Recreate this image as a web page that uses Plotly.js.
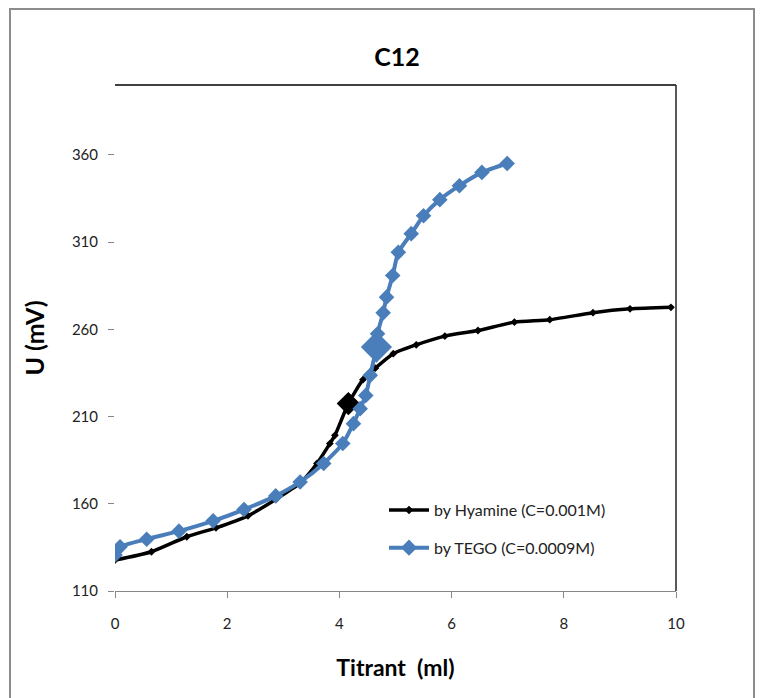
<!DOCTYPE html>
<html>
<head>
<meta charset="utf-8">
<script src="https://cdn.plot.ly/plotly-3.0.1.min.js"></script>
<style>html,body{margin:0;padding:0;background:#fff;}#chart{width:760px;height:698px;}</style>
</head>
<body>
<div id="chart"></div>
<script>
// Data
const hyamineX = [0, 0.65, 1.28, 1.8, 2.37, 2.87, 3.29, 3.6, 3.83, 3.92, 4.16, 4.42, 4.64, 4.96, 5.37, 5.88, 6.47, 7.12, 7.75, 8.52, 9.18, 9.91];
const hyamineY = [127.7, 132.5, 141.1, 146.2, 153.1, 162.6, 171.6, 183.1, 194.5, 199.2, 217.4, 231.1, 237.7, 246.0, 251.1, 256.1, 259.3, 264.1, 265.5, 269.5, 271.7, 272.6];
const tegoX = [0, 0.09, 0.565, 1.14, 1.75, 2.30, 2.865, 3.30, 3.72, 4.06, 4.25, 4.37, 4.47, 4.55, 4.66, 4.68, 4.78, 4.84, 4.95, 5.05, 5.28, 5.50, 5.79, 6.14, 6.54, 6.99];
const tegoY = [130.6, 135.3, 139.7, 144.3, 150.2, 156.7, 164.5, 172.5, 183.1, 194.5, 205.9, 214.5, 222.1, 233.6, 249.8, 257.4, 269.4, 278.4, 290.8, 304.1, 314.8, 325.1, 334.3, 342.3, 349.9, 355.0];
const hyamineEqIndex = 10;  // enlarged marker (equivalence point)
const tegoEqIndex = 14;
const seriesNames = ["by Hyamine (C=0.001M)", "by TEGO (C=0.0009M)"];
const chartTitle = "C12";
const xTitle = "Titrant  (ml)";
const yTitle = "U (mV)";

const FONT = "Lato, 'Open Sans', sans-serif";
const hSizes = hyamineX.map((_, i) => i === hyamineEqIndex ? 18 : 6);
const tSizes = tegoX.map((_, i) => i === tegoEqIndex ? 24 : 12);

const traces = [
  {
    x: hyamineX, y: hyamineY, name: seriesNames[0], type: 'scatter', mode: 'lines+markers',
    line: {color: '#000000', width: 3.5, shape: 'spline', smoothing: 0.6},
    marker: {symbol: 'diamond', color: '#000000', size: hSizes, opacity: 1, line: {width: 0}},
    legendgroup: 'a'
  },
  {
    x: tegoX, y: tegoY, name: seriesNames[1], type: 'scatter', mode: 'lines+markers',
    line: {color: '#4A7EBB', width: 4, shape: 'spline', smoothing: 0.6},
    marker: {symbol: 'diamond', color: '#4A7EBB', size: tSizes, opacity: 1, line: {width: 0}},
    legendgroup: 'b'
  }
];

const L = 115, R = 676, T = 85, B = 591;
const W = R - L, H = B - T;
const px = v => (v - L) / W;
const py = v => (B - v) / H;

const layout = {
  width: 760, height: 698,
  margin: {l: L, r: 760 - R, t: T, b: 698 - B, pad: 0},
  paper_bgcolor: '#ffffff', plot_bgcolor: '#ffffff',
  font: {family: FONT, color: '#333333', size: 14},
  title: {text: '<b>' + chartTitle + '</b>', font: {family: FONT, size: 25, color: '#000'}, x: px(397), xref: 'paper', xanchor: 'center', y: 1 - 57/698, yanchor: 'middle'},
  showlegend: true,
  legend: {x: px(384), y: py(493), xanchor: 'left', yanchor: 'top', bgcolor: 'rgba(0,0,0,0)', font: {family: FONT, size: 16, color: '#222'}, tracegroupgap: 14, itemsizing: 'trace', itemwidth: 40},
  xaxis: {
    range: [0, 10], dtick: 2, tick0: 0, showgrid: false, zeroline: false,
    showline: true, linecolor: '#868686', linewidth: 1,
    ticks: 'outside', ticklen: 6, tickcolor: '#868686',
    tickfont: {family: FONT, size: 15, color: '#222'}, ticklabelstandoff: 13,
    title: {text: '<b>' + xTitle + '</b>', font: {family: FONT, size: 23, color: '#000'}, standoff: 28}
  },
  yaxis: {
    range: [110, 400], tickvals: [110, 160, 210, 260, 310, 360], showgrid: false, zeroline: false,
    showline: false, ticks: 'outside', ticklen: 6, tickcolor: '#868686',
    tickfont: {family: FONT, size: 15, color: '#222'}, ticklabelstandoff: 7,
    title: {text: '<b>' + yTitle + '</b>', font: {family: FONT, size: 25, color: '#000'}, standoff: 20}
  },
  shapes: [
    {type: 'line', xref: 'paper', yref: 'paper', x0: 0, x1: 1, y0: 1, y1: 1, line: {color: '#000', width: 1.5}},
    {type: 'line', xref: 'paper', yref: 'paper', x0: 1, x1: 1, y0: 0, y1: 1, line: {color: '#222', width: 1.5}},
    {type: 'rect', xref: 'paper', yref: 'paper', x0: px(10), x1: px(754), y0: py(9), y1: py(710), line: {color: '#8c8c8c', width: 2}, fillcolor: 'rgba(0,0,0,0)', layer: 'below'}
  ]
};

Plotly.newPlot('chart', traces, layout, {displayModeBar: false, staticPlot: true});
</script>
</body>
</html>
